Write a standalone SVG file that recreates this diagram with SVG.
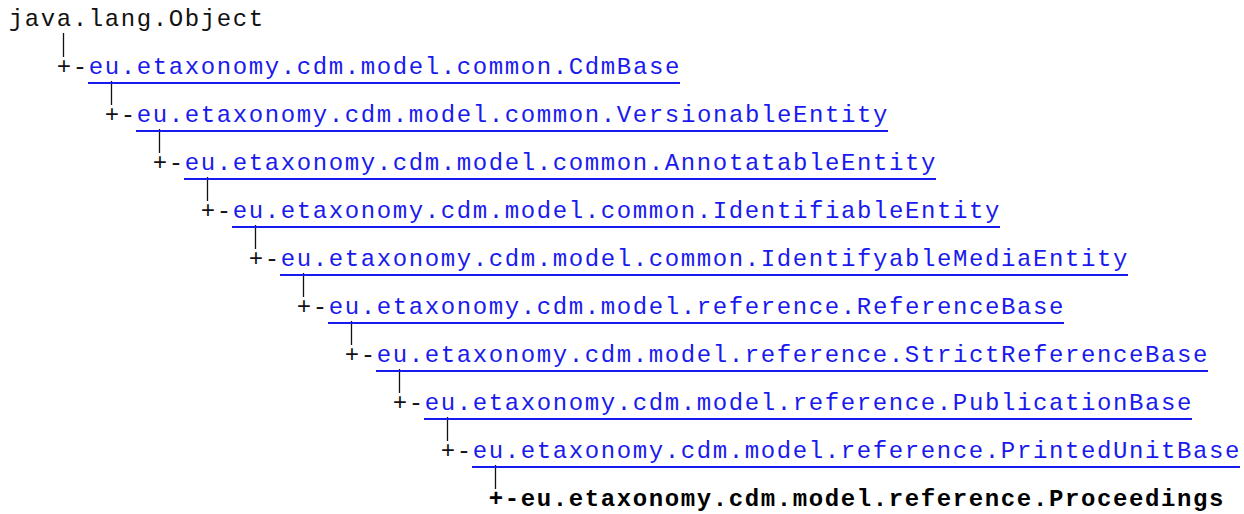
<svg xmlns="http://www.w3.org/2000/svg" width="1244" height="514" viewBox="0 0 1244 514">
<style>
text{font-family:"Liberation Mono","Courier New",monospace;font-size:24px;letter-spacing:1.6px;fill:#111}
.lk{fill:#1a1aee}
.b{font-weight:bold;fill:#000}
.ul{stroke:#1a1aee;stroke-width:2}
.pp{stroke:#111;stroke-width:1.3}
</style>
<rect width="1244" height="514" fill="#fff"/>
<g id="connectors">
<line class="pp" x1="63.5" y1="33" x2="63.5" y2="57"/>
<line class="pp" x1="111.5" y1="81" x2="111.5" y2="105"/>
<line class="pp" x1="159.5" y1="129" x2="159.5" y2="153"/>
<line class="pp" x1="207.5" y1="177" x2="207.5" y2="201"/>
<line class="pp" x1="255.5" y1="225" x2="255.5" y2="249"/>
<line class="pp" x1="303.5" y1="273" x2="303.5" y2="297"/>
<line class="pp" x1="351.5" y1="321" x2="351.5" y2="345"/>
<line class="pp" x1="399.5" y1="369" x2="399.5" y2="393"/>
<line class="pp" x1="447.5" y1="417" x2="447.5" y2="441"/>
<line class="pp" x1="495.5" y1="465" x2="495.5" y2="489"/>
</g>
<g id="n0"><text x="8.8" y="26">java.lang.Object</text></g>
<g id="n1"><text x="56.8" y="74">+-</text><text class="lk" x="88.8" y="74">eu.etaxonomy.cdm.model.common.CdmBase</text><line class="ul" x1="88" y1="83" x2="680" y2="83"/></g>
<g id="n2"><text x="104.8" y="122">+-</text><text class="lk" x="136.8" y="122">eu.etaxonomy.cdm.model.common.VersionableEntity</text><line class="ul" x1="136" y1="131" x2="888" y2="131"/></g>
<g id="n3"><text x="152.8" y="170">+-</text><text class="lk" x="184.8" y="170">eu.etaxonomy.cdm.model.common.AnnotatableEntity</text><line class="ul" x1="184" y1="179" x2="936" y2="179"/></g>
<g id="n4"><text x="200.8" y="218">+-</text><text class="lk" x="232.8" y="218">eu.etaxonomy.cdm.model.common.IdentifiableEntity</text><line class="ul" x1="232" y1="227" x2="1000" y2="227"/></g>
<g id="n5"><text x="248.8" y="266">+-</text><text class="lk" x="280.8" y="266">eu.etaxonomy.cdm.model.common.IdentifyableMediaEntity</text><line class="ul" x1="280" y1="275" x2="1128" y2="275"/></g>
<g id="n6"><text x="296.8" y="314">+-</text><text class="lk" x="328.8" y="314">eu.etaxonomy.cdm.model.reference.ReferenceBase</text><line class="ul" x1="328" y1="323" x2="1064" y2="323"/></g>
<g id="n7"><text x="344.8" y="362">+-</text><text class="lk" x="376.8" y="362">eu.etaxonomy.cdm.model.reference.StrictReferenceBase</text><line class="ul" x1="376" y1="371" x2="1208" y2="371"/></g>
<g id="n8"><text x="392.8" y="410">+-</text><text class="lk" x="424.8" y="410">eu.etaxonomy.cdm.model.reference.PublicationBase</text><line class="ul" x1="424" y1="419" x2="1192" y2="419"/></g>
<g id="n9"><text x="440.8" y="458">+-</text><text class="lk" x="472.8" y="458">eu.etaxonomy.cdm.model.reference.PrintedUnitBase</text><line class="ul" x1="472" y1="467" x2="1240" y2="467"/></g>
<g id="n10"><text class="b" x="488.8" y="506">+-eu.etaxonomy.cdm.model.reference.Proceedings</text></g>
</svg>
